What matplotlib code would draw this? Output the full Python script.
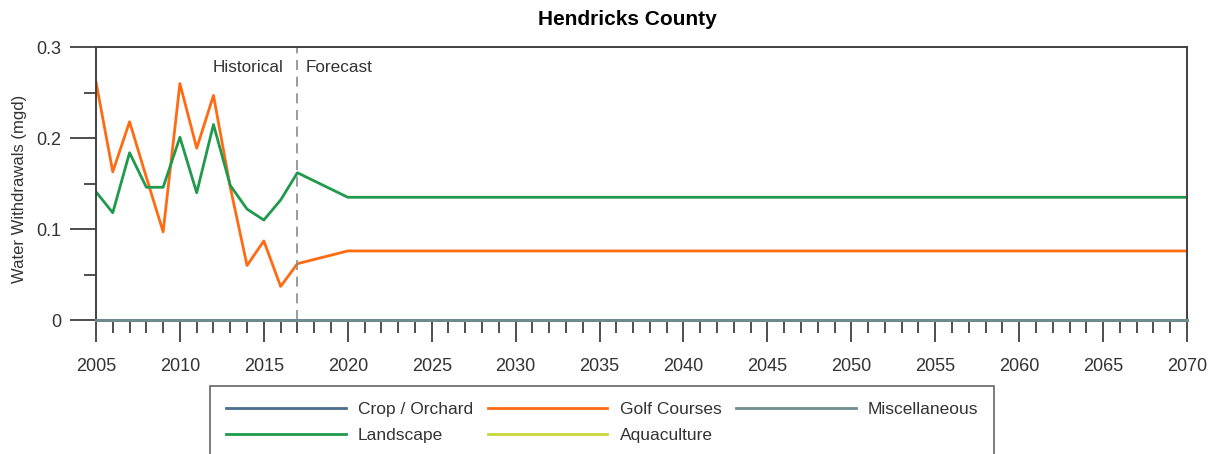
import matplotlib.pyplot as plt
from matplotlib.ticker import MultipleLocator, FixedLocator

plt.rcParams['font.family'] = ['Liberation Sans', 'DejaVu Sans']

# data
years = [2005, 2006, 2007, 2008, 2009, 2010, 2011, 2012, 2013, 2014,
         2015, 2016, 2017, 2020, 2070]
golf = [0.262, 0.163, 0.218, 0.157, 0.097, 0.260, 0.189, 0.247, 0.146, 0.060,
        0.087, 0.037, 0.062, 0.076, 0.076]
landscape = [0.141, 0.118, 0.184, 0.146, 0.146, 0.201, 0.140, 0.215, 0.148, 0.122,
             0.110, 0.132, 0.162, 0.135, 0.135]
crop = [0.0] * len(years)
aquaculture = [0.0] * len(years)
misc = [0.0] * len(years)

split_year = 2017
y_ticks = [0, 0.1, 0.2, 0.3]
y_labels = ['0', '0.1', '0.2', '0.3']

fig = plt.figure(figsize=(12.15, 4.54), dpi=100)
ax = fig.add_axes([0.079, 0.295, 0.898, 0.601])

ax.plot(years, golf, color='#ff6a13', lw=2, label='Golf Courses')
ax.plot(years, landscape, color='#1f9a4c', lw=2, label='Landscape')
# the zero series sit on the x axis, drawn over the spine
ax.plot(years, aquaculture, color='#c9d835', lw=2, label='Aquaculture',
        zorder=3, clip_on=False)
ax.plot(years, crop, color='#4b6e8e', lw=2, label='Crop / Orchard',
        zorder=3, clip_on=False)
ax.plot(years, misc, color='#6f8d8f', lw=2, label='Miscellaneous',
        zorder=3, clip_on=False)

ax.axvline(split_year, color='#8a8a8a', lw=1.2, ls=(0, (6, 4)))
ax.text(split_year - 0.85, 0.278, 'Historical', ha='right', va='center',
        fontsize=12.3, color='#333333')
ax.text(split_year + 0.5, 0.278, 'Forecast', ha='left', va='center',
        fontsize=12.3, color='#333333')

ax.set_xlim(2005, 2070)
ax.set_ylim(0, 0.3)
ax.xaxis.set_major_locator(MultipleLocator(5))
ax.xaxis.set_minor_locator(MultipleLocator(1))
ax.yaxis.set_major_locator(FixedLocator(y_ticks))
ax.set_yticklabels(y_labels)
ax.yaxis.set_minor_locator(MultipleLocator(0.05))

ax.tick_params(axis='x', which='major', direction='out', length=16, width=1.3,
               color='#404040', labelsize=13, labelcolor='#333333', pad=11)
ax.tick_params(axis='x', which='minor', direction='out', length=9, width=1.3,
               color='#404040')
ax.tick_params(axis='y', which='major', direction='out', length=19, width=1.3,
               color='#404040', labelsize=13, labelcolor='#333333', pad=6)
ax.tick_params(axis='y', which='minor', direction='out', length=9, width=1.3,
               color='#404040')
for s in ax.spines.values():
    s.set_color('#404040')
    s.set_linewidth(1.4)

ax.set_ylabel('Water Withdrawals (mgd)', fontsize=12, color='#333333', labelpad=2)
ax.yaxis.set_label_coords(-0.063, 0.48)
fig.text(0.516, 0.956, 'Hendricks County', ha='center', va='center',
         fontsize=15, fontweight='bold')

h, l = ax.get_legend_handles_labels()
order = ['Crop / Orchard', 'Landscape', 'Golf Courses', 'Aquaculture', 'Miscellaneous']
handles = [h[l.index(n)] for n in order]
leg = fig.legend(handles, order, ncol=3, loc='upper left',
                 bbox_to_anchor=(0.173, 0.15), fontsize=12.5, handlelength=6.9,
                 handletextpad=0.7, columnspacing=0.85, labelspacing=0.67,
                 fancybox=False, frameon=True, borderpad=0.9, borderaxespad=0)
leg.get_frame().set_edgecolor('#404040')
leg.get_frame().set_linewidth(1.2)
for t in leg.get_texts():
    t.set_color('#333333')

plt.savefig('out.png', dpi=100)
